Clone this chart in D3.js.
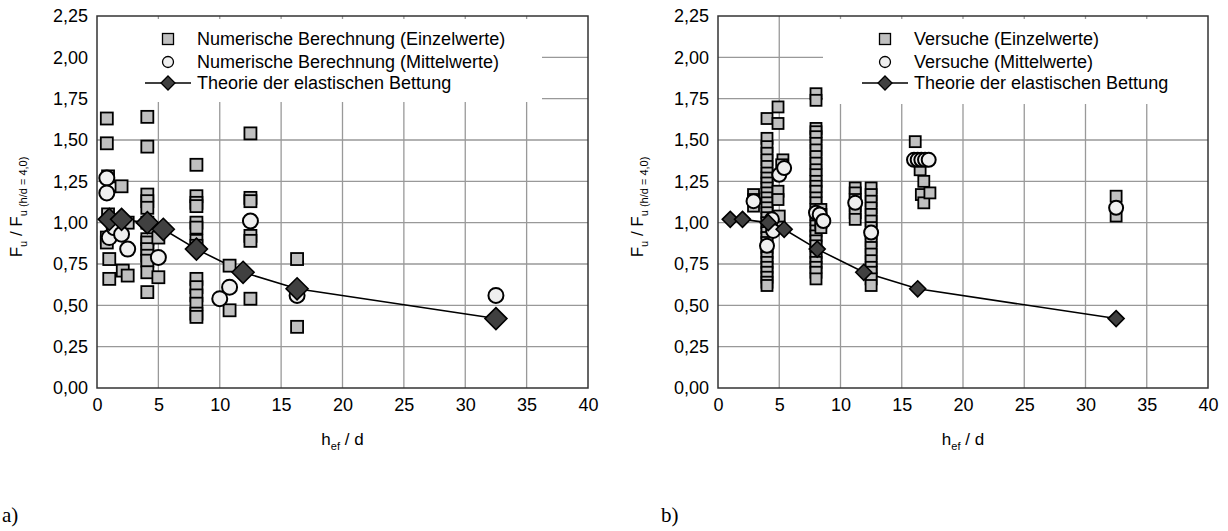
<!DOCTYPE html>
<html>
<head>
<meta charset="utf-8">
<title>Fu / Fu(h/d=4,0)</title>
<style>
  body { margin: 0; background: #fff; }
  svg text { font-family: "Liberation Sans", Arial, sans-serif; fill: #000; }
</style>
</head>
<body>
<div id="chart"></div>
<script src="https://cdn.jsdelivr.net/npm/d3@7"></script>
<script>

// axis ticks
var xTicks = [0, 5, 10, 15, 20, 25, 30, 35, 40];
var yTicks = [0, 0.25, 0.5, 0.75, 1.0, 1.25, 1.5, 1.75, 2.0, 2.25];

// theory (same in both panels)
var theorie = [[1.0,1.02],[2.0,1.02],[4.1,1.00],[5.4,0.96],[8.1,0.84],[11.9,0.70],[16.3,0.60],[32.5,0.42]];

// panel a) numerische Berechnung
var numEinzel = [
  [0.8,1.63],[0.8,1.48],[0.9,1.28],[0.9,1.05],[0.8,0.91],[0.8,0.88],[1.0,0.78],[1.0,0.66],
  [2.0,1.22],[2.0,1.00],[2.1,0.71],[2.5,1.00],[2.5,0.68],
  [4.1,1.64],[4.1,1.46],[4.1,1.17],[4.1,1.13],[4.1,1.09],[4.1,1.00],[4.1,0.90],[4.1,0.88],
  [4.1,0.84],[4.1,0.80],[4.1,0.77],[4.1,0.70],[4.1,0.58],
  [5.0,0.91],[5.0,0.67],
  [8.1,1.35],[8.1,1.16],[8.1,1.12],[8.1,1.10],[8.1,1.00],[8.1,0.97],[8.1,0.89],[8.1,0.86],
  [8.1,0.66],[8.1,0.61],[8.1,0.56],[8.1,0.51],[8.1,0.45],[8.1,0.43],
  [10.8,0.74],[10.8,0.47],
  [12.5,1.54],[12.5,1.15],[12.5,1.13],[12.5,0.92],[12.5,0.89],[12.5,0.54],
  [16.3,0.78],[16.3,0.37]
];
var numMittel = [
  [0.8,1.27],[0.8,1.18],[1.0,0.91],[1.4,0.97],[2.0,0.93],[2.5,0.84],[5.0,0.79],
  [10.0,0.54],[10.8,0.61],[12.5,1.01],[16.3,0.56],[32.5,0.56]
];

// panel b) Versuche
var versEinzel = [
  [2.9,1.17],[2.9,1.14],[2.9,1.10],
  [4.0,1.63],[4.0,1.51],[4.0,1.46],[4.0,1.42],[4.0,1.38],[4.0,1.34],[4.0,1.30],[4.0,1.27],
  [4.0,1.24],[4.0,1.21],[4.0,1.18],[4.0,1.15],[4.0,1.12],[4.0,1.09],[4.0,1.06],[4.0,1.03],
  [4.0,1.00],[4.0,0.97],[4.0,0.94],[4.0,0.91],[4.0,0.88],[4.0,0.85],[4.0,0.82],[4.0,0.79],
  [4.0,0.76],[4.0,0.73],[4.0,0.70],[4.0,0.67],[4.0,0.64],[4.0,0.62],
  [4.9,1.70],[4.9,1.60],[5.3,1.38],[5.2,1.35],[4.9,1.19],[4.9,1.14],[5.0,1.04],
  [8.0,1.78],[8.0,1.74],[8.0,1.57],[8.0,1.55],[8.0,1.52],[8.0,1.48],[8.0,1.44],[8.0,1.40],
  [8.0,1.36],[8.0,1.32],[8.0,1.29],[8.0,1.25],[8.0,1.22],[8.0,1.19],[8.0,1.15],[8.0,1.12],
  [8.0,1.08],[8.0,1.05],[8.0,1.02],[8.0,0.98],[8.0,0.95],[8.0,0.92],[8.0,0.89],[8.0,0.86],
  [8.0,0.82],[8.0,0.79],[8.0,0.76],[8.0,0.73],[8.0,0.70],[8.0,0.66],
  [8.4,1.08],[8.4,1.05],[8.4,1.00],[8.4,0.97],
  [11.2,1.21],[11.2,1.18],[11.2,1.14],[11.2,1.10],[11.2,1.06],[11.2,1.02],
  [12.5,1.21],[12.5,1.17],[12.5,1.13],[12.5,1.09],[12.5,1.05],[12.5,1.01],[12.5,0.97],[12.5,0.93],
  [12.5,0.89],[12.5,0.85],[12.5,0.81],[12.5,0.77],[12.5,0.73],[12.5,0.70],[12.5,0.66],[12.5,0.62],
  [16.1,1.49],[16.3,1.38],[16.5,1.32],[16.8,1.25],[16.6,1.17],[16.8,1.12],[17.3,1.18],
  [32.5,1.16],[32.5,1.04]
];
var versMittel = [
  [2.9,1.13],[4.0,0.86],[4.4,1.02],[4.5,0.95],[5.0,1.29],[5.4,1.33],
  [8.0,1.06],[8.3,1.05],[8.6,1.01],[11.2,1.12],[12.5,0.94],
  [16.0,1.38],[16.3,1.38],[16.6,1.38],[16.9,1.38],[17.2,1.38],[32.5,1.09]
];

var legendA = ["Numerische Berechnung (Einzelwerte)", "Numerische Berechnung (Mittelwerte)", "Theorie der elastischen Bettung"];
var legendB = ["Versuche (Einzelwerte)", "Versuche (Mittelwerte)", "Theorie der elastischen Bettung"];

var w = 1228, h = 531;
var svg = d3.select("#chart").append("svg").attr("width", w).attr("height", h);

var fmt = function(v) { return d3.format(".2f")(v).replace(".", ","); };

function panel(o) {
  var x = d3.scaleLinear().domain([0, 40]).range([o.left, o.right]);
  var y = d3.scaleLinear().domain([0, 2.25]).range([388, 16]);
  var g = svg.append("g");

  // grid
  g.selectAll(".gx").data(xTicks.slice(1, -1)).enter().append("line")
    .attr("x1", d => x(d)).attr("x2", d => x(d)).attr("y1", y(0)).attr("y2", y(2.25))
    .attr("stroke", "#999").attr("stroke-width", 1.3);
  g.selectAll(".gy").data(yTicks.slice(1, -1)).enter().append("line")
    .attr("x1", x(0)).attr("x2", x(40)).attr("y1", d => y(d)).attr("y2", d => y(d))
    .attr("stroke", "#999").attr("stroke-width", 1.3);

  // legend background hides grid
  g.append("rect").attr("x", o.box[0]).attr("y", y(2.25) + 3)
    .attr("width", o.box[1] - o.box[0]).attr("height", o.box[2] - y(2.25) - 3).attr("fill", "#fff");

  // frame
  g.append("rect").attr("x", x(0)).attr("y", y(2.25)).attr("width", x(40) - x(0)).attr("height", y(0) - y(2.25))
    .attr("fill", "none").attr("stroke", "#333").attr("stroke-width", 1.5);

  // axes labels
  var xa = d3.axisBottom(x).tickValues(xTicks).tickSize(0).tickPadding(10);
  var ya = d3.axisLeft(y).tickValues(yTicks).tickSize(0).tickPadding(9).tickFormat(fmt);
  var gx = g.append("g").attr("transform", "translate(0," + y(0) + ")").call(xa);
  var gy = g.append("g").attr("transform", "translate(" + x(0) + ",0)").call(ya);
  [gx, gy].forEach(function(a) {
    a.select(".domain").remove();
    a.selectAll("text").style("font-size", "18px").style("font-family", "Liberation Sans, Arial, sans-serif").attr("fill", "#000");
  });

  var line = d3.line().x(d => x(d[0])).y(d => y(d[1]));
  var dia = function(s) { return "M0," + (-s) + "L" + s + ",0L0," + s + "L" + (-s) + ",0Z"; };

  g.append("path").datum(theorie).attr("d", line).attr("fill", "none").attr("stroke", "#000").attr("stroke-width", 1.6);

  g.selectAll(".sq").data(o.einzel).enter().append("rect")
    .attr("x", d => x(d[0]) - o.sq / 2).attr("y", d => y(d[1]) - o.sq / 2)
    .attr("width", o.sq).attr("height", o.sq)
    .attr("fill", "#c0c0c0").attr("stroke", "#000").attr("stroke-width", 1.8);

  g.selectAll(".ci").data(o.mittel).enter().append("circle")
    .attr("cx", d => x(d[0])).attr("cy", d => y(d[1])).attr("r", o.r)
    .attr("fill", "#efefef").attr("stroke", "#000").attr("stroke-width", 2);

  g.selectAll(".di").data(theorie).enter().append("path")
    .attr("transform", d => "translate(" + x(d[0]) + "," + y(d[1]) + ")")
    .attr("d", dia(o.dia))
    .attr("fill", "#404040").attr("stroke", "#000").attr("stroke-width", 1.6);

  // legend
  var lx = o.legX, ly = [39, 62, 83];
  g.append("rect").attr("x", lx - 5.5).attr("y", ly[0] - 5.5).attr("width", 11).attr("height", 11)
    .attr("fill", "#c0c0c0").attr("stroke", "#000").attr("stroke-width", 1.3);
  g.append("circle").attr("cx", lx).attr("cy", ly[1]).attr("r", 5.5)
    .attr("fill", "#efefef").attr("stroke", "#000").attr("stroke-width", 1.3);
  g.append("line").attr("x1", lx - 23).attr("x2", lx + 23).attr("y1", ly[2]).attr("y2", ly[2])
    .attr("stroke", "#000").attr("stroke-width", 1.6);
  g.append("path").attr("transform", "translate(" + lx + "," + ly[2] + ")").attr("d", dia(7))
    .attr("fill", "#404040").attr("stroke", "#000").attr("stroke-width", 1.3);
  g.selectAll(".lt").data(o.legend).enter().append("text")
    .attr("x", lx + 29).attr("y", (d, i) => ly[i] + 6).style("font-size", "18px").text(d => d);

  // axis titles
  var xt = g.append("text").attr("x", (x(0) + x(40)) / 2).attr("y", 445).attr("text-anchor", "middle").style("font-size", "17px");
  xt.append("tspan").text("h");
  xt.append("tspan").attr("dy", 5).style("font-size", "11px").text("ef");
  xt.append("tspan").attr("dy", -5).text(" / d");

  var yt = g.append("text").attr("transform", "translate(" + (o.left - 75) + ",207) rotate(-90)")
    .attr("text-anchor", "middle").style("font-size", "17px");
  yt.append("tspan").text("F");
  yt.append("tspan").attr("dy", 5).style("font-size", "11px").text("u");
  yt.append("tspan").attr("dy", -5).text(" / F");
  yt.append("tspan").attr("dy", 5).style("font-size", "11px").text("u (h/d = 4,0)");

  svg.append("text").attr("x", o.tag).attr("y", 522)
    .style("font-family", "Liberation Serif, Times New Roman, serif").style("font-size", "21px").text(o.tagText);
}

panel({ left: 97, right: 588, box: [97, 542, 102], einzel: numEinzel, mittel: numMittel,
        sq: 12, r: 7.5, dia: 11, legX: 168, legend: legendA, tag: 2, tagText: "a)" });
panel({ left: 718, right: 1208, box: [823, 1208, 104], einzel: versEinzel, mittel: versMittel,
        sq: 11, r: 7, dia: 8, legX: 885, legend: legendB, tag: 661, tagText: "b)" });

</script>
</body>
</html>
